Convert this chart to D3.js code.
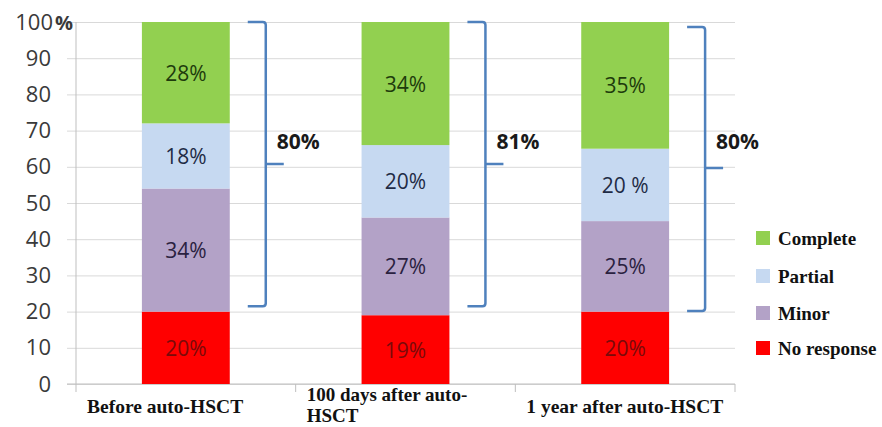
<!DOCTYPE html>
<html>
<head>
<meta charset="utf-8">
<script src="https://cdn.jsdelivr.net/npm/d3@7/dist/d3.min.js"></script>
<style>
  html, body { margin: 0; padding: 0; background: #fff; }
  svg { display: block; }
</style>
</head>
<body>
<svg id="chart" width="882" height="427"></svg>
<script>
// ---- data ----
const categories = ["Before auto-HSCT", "100 days after auto-HSCT", "1 year after auto-HSCT"];
const categoryLines = [["Before auto-HSCT"], ["100 days after auto-", "HSCT"], ["1 year after auto-HSCT"]];
const seriesKeys = ["noResponse", "minor", "partial", "complete"];
const seriesNames = ["No response", "Minor", "Partial", "Complete"];
const noResponse = [20, 19, 20];
const minor = [34, 27, 25];
const partial = [18, 20, 20];
const complete = [28, 34, 35];
const noResponseLabels = ["20%", "19%", "20%"];
const minorLabels = ["34%", "27%", "25%"];
const partialLabels = ["18%", "20%", "20 %"];
const completeLabels = ["28%", "34%", "35%"];
const yTicks = [0, 10, 20, 30, 40, 50, 60, 70, 80, 90, 100];
const bracketLow = [21.5, 21.5, 20.2];
const bracketHigh = [100, 100, 98.6];
const bracketMid = [60.8, 60.8, 59.7];
const bracketLabels = ["80%", "81%", "80%"];

// ---- styles ----
const colors = { noResponse: "#ff0000", minor: "#b3a2c7", partial: "#c6d9f1", complete: "#92d050" };
const labelColors = { noResponse: "#7a0a0a", minor: "#2a2140", partial: "#1f2b45", complete: "#1e3b0c" };
const seriesVals = { noResponse, minor, partial, complete };
const seriesLabels = { noResponse: noResponseLabels, minor: minorLabels, partial: partialLabels, complete: completeLabels };

const svg = d3.select("#chart");
const plotLeft = 76, plotRight = 735, gridLeft = 67;
const y = d3.scaleLinear().domain([0, 100]).range([384, 22]);
const x = d3.scaleBand().domain(categories).range([plotLeft, plotRight]).padding(0);
const barW = x.bandwidth() * 0.4;

// gridlines + y tick labels
const yAxis = d3.axisLeft(y).tickValues(yTicks).tickSize(plotRight - gridLeft).tickPadding(16)
  .tickFormat(d => d === 100 ? "100" : String(d));
const gy = svg.append("g").attr("transform", `translate(${plotRight},0)`).call(yAxis);
gy.select(".domain").remove();
gy.selectAll(".tick line").attr("stroke", "#d9d9d9").attr("stroke-width", 1);
gy.selectAll(".tick text")
  .attr("font-family", "'Open Sans', sans-serif")
  .attr("font-size", 22)
  .attr("fill", "#3a3a3a");
gy.selectAll(".tick").filter(d => d === 100).select("text")
  .attr("x", 73 - plotRight)
  .append("tspan").attr("dx", 2).attr("font-size", 20).attr("font-weight", "bold").text("%");

// y axis line
svg.append("line").attr("x1", plotLeft).attr("x2", plotLeft)
  .attr("y1", y(0)).attr("y2", y(100)).attr("stroke", "#bfbfbf");

// x axis baseline + category separators
svg.append("line").attr("x1", gridLeft).attr("x2", plotRight)
  .attr("y1", y(0)).attr("y2", y(0)).attr("stroke", "#bfbfbf");
const seps = categories.map(c => x(c)).concat([x(categories[categories.length - 1]) + x.bandwidth()]);
svg.append("g").selectAll("line").data(seps).join("line")
  .attr("x1", d => d).attr("x2", d => d)
  .attr("y1", y(0)).attr("y2", y(0) + 8).attr("stroke", "#bfbfbf");

// stacked bars
const table = categories.map((c, i) => {
  const o = { category: c, i };
  seriesKeys.forEach(k => o[k] = seriesVals[k][i]);
  return o;
});
const stacked = d3.stack().keys(seriesKeys)(table);
const layers = svg.append("g").selectAll("g").data(stacked).join("g")
  .attr("fill", d => colors[d.key]);
layers.selectAll("rect").data(d => d).join("rect")
  .attr("x", d => x(d.data.category) + x.bandwidth() / 2 - barW / 2)
  .attr("width", barW)
  .attr("y", d => y(d[1]))
  .attr("height", d => y(d[0]) - y(d[1]));

// bar value labels
stacked.forEach(layer => {
  svg.append("g").selectAll("text").data(layer).join("text")
    .attr("x", d => x(d.data.category) + x.bandwidth() / 2)
    .attr("y", d => y((d[0] + d[1]) / 2))
    .attr("text-anchor", "middle")
    .attr("dominant-baseline", "central")
    .attr("font-family", "'Open Sans', sans-serif")
    .attr("font-size", 21)
    .attr("fill", labelColors[layer.key])
    .text(d => seriesLabels[layer.key][d.data.i]);
});

// brackets
categories.forEach((c, i) => {
  const right = x(c) + x.bandwidth() / 2 + barW / 2;
  const armX = right + 18, vx = right + 36, tickX = right + 54;
  const yl = y(bracketLow[i]), yh = y(bracketHigh[i]), ym = y(bracketMid[i]);
  const p = d3.path();
  p.moveTo(armX, yh); p.lineTo(vx - 3, yh); p.quadraticCurveTo(vx, yh, vx, yh + 3);
  p.lineTo(vx, yl - 3); p.quadraticCurveTo(vx, yl, vx - 3, yl); p.lineTo(armX, yl);
  p.moveTo(vx, ym); p.lineTo(tickX, ym);
  svg.append("path").attr("d", p.toString()).attr("fill", "none")
    .attr("stroke", "#4f81bd").attr("stroke-width", 2.5);
  svg.append("text").attr("x", vx + 11).attr("y", y(67))
    .attr("dominant-baseline", "central")
    .attr("font-family", "'Open Sans', sans-serif").attr("font-weight", "bold")
    .attr("font-size", 21).attr("fill", "#1a1a1a")
    .text(bracketLabels[i]);
});

// category labels
categories.forEach((c, i) => {
  const lines = categoryLines[i];
  const lx = x(c) + 11;
  const single = lines.length === 1;
  const baselines = single ? [413] : [401, 422];
  lines.forEach((ln, j) => {
    svg.append("text")
      .attr("x", lx).attr("y", baselines[j])
      .attr("font-family", "'Liberation Serif', 'Times New Roman', serif")
      .attr("font-weight", "bold").attr("font-size", single ? 19.5 : 19).attr("fill", "#111")
      .text(ln);
  });
});

// legend
const legendOrder = ["complete", "partial", "minor", "noResponse"];
const legendY = [238, 276, 313, 348];
const lg = svg.append("g");
legendOrder.forEach((k, i) => {
  lg.append("rect").attr("x", 756).attr("y", legendY[i] - 7).attr("width", 14).attr("height", 14)
    .attr("fill", colors[k]);
  lg.append("text").attr("x", 778).attr("y", legendY[i])
    .attr("dominant-baseline", "central")
    .attr("font-family", "'Liberation Serif', 'Times New Roman', serif")
    .attr("font-weight", "bold").attr("font-size", 19).attr("fill", "#111")
    .text(seriesNames[seriesKeys.indexOf(k)]);
});
</script>
</body>
</html>
